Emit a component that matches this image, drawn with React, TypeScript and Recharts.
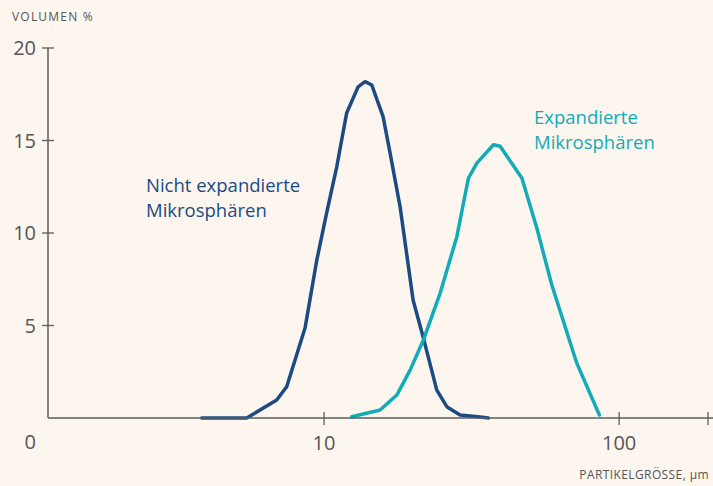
import React from 'react';
import { LineChart, Line, XAxis, YAxis } from 'recharts';

// particle size in µm, volume in %
const nichtExpandiert = [
  { size: 3.85, vol: 0 },
  { size: 5.47, vol: 0 },
  { size: 6.91, vol: 0.97 },
  { size: 7.47, vol: 1.69 },
  { size: 8.62, vol: 4.86 },
  { size: 9.45, vol: 8.54 },
  { size: 10.2, vol: 11.08 },
  { size: 11.04, vol: 13.58 },
  { size: 11.93, vol: 16.49 },
  { size: 13.04, vol: 17.9 },
  { size: 13.77, vol: 18.18 },
  { size: 14.51, vol: 18.0 },
  { size: 15.85, vol: 16.29 },
  { size: 16.74, vol: 14.32 },
  { size: 18.1, vol: 11.42 },
  { size: 20.03, vol: 6.38 },
  { size: 21.65, vol: 4.39 },
  { size: 24.1, vol: 1.51 },
  { size: 26.06, vol: 0.61 },
  { size: 28.9, vol: 0.16 },
  { size: 33.8, vol: 0.05 },
  { size: 36.06, vol: 0 },
];

const expandiert = [
  { size: 12.41, vol: 0.07 },
  { size: 15.48, vol: 0.43 },
  { size: 17.64, vol: 1.24 },
  { size: 19.57, vol: 2.59 },
  { size: 21.71, vol: 4.22 },
  { size: 24.73, vol: 6.74 },
  { size: 28.18, vol: 9.8 },
  { size: 30.85, vol: 12.97 },
  { size: 32.94, vol: 13.78 },
  { size: 37.5, vol: 14.77 },
  { size: 39.5, vol: 14.69 },
  { size: 46.8, vol: 12.97 },
  { size: 52.6, vol: 10.27 },
  { size: 59.1, vol: 7.2 },
  { size: 71.9, vol: 2.95 },
  { size: 85.7, vol: 0.16 },
];

const xTicks = [10, 100, 200];
const xLabels: Record<number, string> = { 10: '10', 100: '100', 200: '' };
const yTicks = [0, 5, 10, 15, 20];

const BG = '#fdf6ef';
const AXIS = '#5c5c5c';
const TEXT = '#555555';
const DARK = '#1c4a83';
const TEAL = '#12abb8';
const FONT = '"Open Sans", Lato, sans-serif';

const YTick = (props: any) => {
  const { x, y, payload } = props;
  const v = payload.value;
  return (
    <g>
      {v !== 0 && <line x1={x - 6} x2={x + 6} y1={y} y2={y} stroke={AXIS} strokeWidth={1.3} />}
      <text
        x={x - 12}
        y={v === 0 ? y + 31 : y + 7}
        textAnchor="end"
        fill={TEXT}
        fontSize={20}
        fontFamily={FONT}
      >
        {String(v)}
      </text>
    </g>
  );
};

const XTick = (props: any) => {
  const { x, y, payload } = props;
  return (
    <g>
      <line x1={x} x2={x} y1={y - 6} y2={y + 7} stroke={AXIS} strokeWidth={1.3} />
      <text x={x} y={y + 32} textAnchor="middle" fill={TEXT} fontSize={20} fontFamily={FONT}>
        {xLabels[payload.value]}
      </text>
    </g>
  );
};

export default function App() {
  return (
    <div style={{ position: 'absolute', left: 0, top: 0, width: 713, height: 486, background: BG, fontFamily: FONT }}>
      <LineChart width={713} height={486} margin={{ top: 48, right: 0, bottom: 0, left: 0 }}>
        <XAxis
          type="number"
          dataKey="size"
          scale="log"
          domain={[1.16, 208]}
          allowDataOverflow
          ticks={xTicks}
          interval={0}
          tickSize={0}
          tickMargin={0}
          tickLine={false}
          axisLine={{ stroke: AXIS, strokeWidth: 1.5 }}
          tick={XTick}
          height={68}
        />
        <YAxis
          type="number"
          dataKey="vol"
          domain={[0, 20]}
          ticks={yTicks}
          interval={0}
          tickSize={0}
          tickMargin={0}
          tickLine={false}
          axisLine={{ stroke: AXIS, strokeWidth: 1.5 }}
          tick={YTick}
          width={48}
        />
        <Line
          data={nichtExpandiert}
          dataKey="vol"
          type="linear"
          stroke={DARK}
          strokeWidth={3.5}
          strokeLinejoin="round"
          strokeLinecap="round"
          dot={false}
          isAnimationActive={false}
        />
        <Line
          data={expandiert}
          dataKey="vol"
          type="linear"
          stroke={TEAL}
          strokeWidth={3.5}
          strokeLinejoin="round"
          strokeLinecap="round"
          dot={false}
          isAnimationActive={false}
        />
      </LineChart>
      <div style={{ position: 'absolute', left: 12, top: 8, fontSize: 12, letterSpacing: 1.2, color: TEXT }}>
        VOLUMEN %
      </div>
      <div style={{ position: 'absolute', right: 4, top: 466, fontSize: 12, letterSpacing: 0.4, color: TEXT }}>
        PARTIKELGRÖSSE, µm
      </div>
      <div style={{ position: 'absolute', left: 146, top: 172, fontSize: 18.5, lineHeight: '25px', color: DARK }}>
        <div>Nicht expandierte</div>
        <div>Mikrosphären</div>
      </div>
      <div style={{ position: 'absolute', left: 534, top: 104, fontSize: 18.5, lineHeight: '25px', color: TEAL }}>
        <div>Expandierte</div>
        <div>Mikrosphären</div>
      </div>
    </div>
  );
}
